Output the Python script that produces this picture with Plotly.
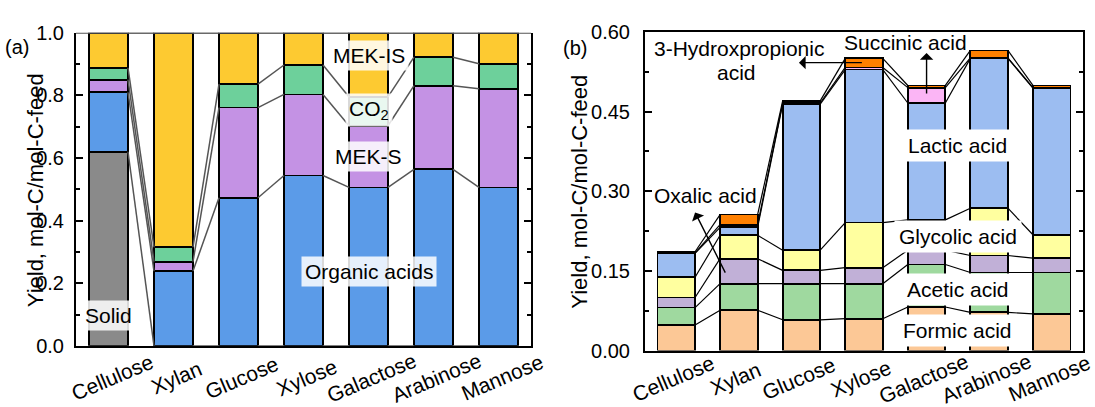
import numpy as np
import plotly.graph_objects as go

W, H = 1095, 407
FONT = "Liberation Sans, Arial, sans-serif"

categories = ["Cellulose", "Xylan", "Glucose", "Xylose", "Galactose", "Arabinose", "Mannose"]

# Panel (a): carbon distribution (mol-C/mol-C-feed)
solid = [0.62, 0.0, 0.0, 0.0, 0.0, 0.0, 0.0]
organic_acids = [0.19, 0.239, 0.473, 0.544, 0.506, 0.564, 0.506]
mek_s = [0.04, 0.030, 0.288, 0.259, 0.197, 0.267, 0.315]
co2 = [0.038, 0.046, 0.075, 0.094, 0.092, 0.091, 0.080]
mek_is = [0.112, 0.685, 0.164, 0.103, 0.205, 0.078, 0.099]

# Panel (b): organic acid yields (mol-C/mol-C-feed)
formic = [0.048, 0.076, 0.058, 0.060, 0.082, 0.072, 0.069]
acetic = [0.033, 0.050, 0.068, 0.066, 0.080, 0.075, 0.078]
oxalic = [0.019, 0.047, 0.025, 0.030, 0.027, 0.032, 0.027]
glycolic = [0.038, 0.044, 0.038, 0.085, 0.057, 0.089, 0.044]
lactic = [0.045, 0.015, 0.275, 0.288, 0.220, 0.282, 0.276]
succinic = [0.001, 0.005, 0.002, 0.004, 0.029, 0.001, 0.001]
hydroxypropionic = [0.002, 0.019, 0.004, 0.017, 0.004, 0.014, 0.004]

a_series = [("Solid", solid, "#8a8a8a"),
            ("Organic acids", organic_acids, "#5b9be8"),
            ("MEK-S", mek_s, "#c492e4"),
            ("CO2", co2, "#6dd09b"),
            ("MEK-IS", mek_is, "#fdca31")]
b_series = [("Formic acid", formic, "#fcc896"),
            ("Acetic acid", acetic, "#9fd99f"),
            ("Oxalic acid", oxalic, "#c1b0d7"),
            ("Glycolic acid", glycolic, "#ffff9f"),
            ("Lactic acid", lactic, "#9cbdf1"),
            ("Succinic acid", succinic, "#fbb5f5"),
            ("3-Hydroxypropionic acid", hydroxypropionic, "#ff8000")]

xs = list(range(len(categories)))
HALF = 0.3

fig = go.Figure()


def add_panel(series, xa, ya, line_color, line_w):
    for name, vals, color in series:
        fig.add_trace(go.Bar(x=xs, y=vals, name=name, width=2 * HALF,
                             marker=dict(color=color, line=dict(color="black", width=1.8)),
                             xaxis=xa, yaxis=ya, showlegend=False))
    cum = np.cumsum(np.array([s[1] for s in series]), axis=0)
    for row in cum:
        lx, ly = [], []
        for i in range(len(xs) - 1):
            lx += [xs[i] + HALF, xs[i + 1] - HALF, None]
            ly += [row[i], row[i + 1], None]
        fig.add_trace(go.Scatter(x=lx, y=ly, mode="lines", xaxis=xa, yaxis=ya,
                                 line=dict(color=line_color, width=line_w),
                                 showlegend=False, hoverinfo="skip"))


add_panel(a_series, "x", "y", "#555555", 1.5)
add_panel(b_series, "x2", "y2", "black", 1.2)

ax_common = dict(range=[-0.5, 6.5], showticklabels=False, ticks="", showgrid=False,
                 zeroline=False, showline=True, linecolor="black", linewidth=2)
fig.update_layout(
    width=W, height=H, margin=dict(l=0, r=0, t=0, b=0),
    plot_bgcolor="white", paper_bgcolor="white",
    barmode="stack", font=dict(family=FONT, size=20, color="black"),
    xaxis=dict(domain=[76 / W, 531 / W], anchor="y", mirror=False, **ax_common),
    xaxis2=dict(domain=[645 / W, 1083 / W], anchor="y2", mirror=True, **ax_common),
    yaxis=dict(domain=[1 - 354 / H, 1 - 23 / H], anchor="x", range=[0, 1],
               tickvals=[0, 0.2, 0.4, 0.6, 0.8, 1.0], tickformat=".1f",
               ticks="inside", ticklen=7, tickwidth=1.6, tickcolor="black",
               minor=dict(ticks="inside", ticklen=4, tickwidth=1.6, dtick=0.1, tickcolor="black"),
               showline=True, linecolor="black", linewidth=2, mirror="ticks",
               showgrid=False, zeroline=False, ticklabelstandoff=6,
               tickfont=dict(size=20)),
    yaxis2=dict(domain=[1 - 359 / H, 1 - 22 / H], anchor="x2", range=[0, 0.6],
                tickvals=[0, 0.15, 0.3, 0.45, 0.6], tickformat=".2f",
                ticks="inside", ticklen=7, tickwidth=1.6, tickcolor="black",
                minor=dict(ticks="inside", ticklen=4, tickwidth=1.6, dtick=0.075, tickcolor="black"),
                showline=True, linecolor="black", linewidth=2, mirror="ticks",
                showgrid=False, zeroline=False, ticklabelstandoff=9,
                tickfont=dict(size=20)),
)

# gray top frame of panel (a)
fig.add_shape(type="line", xref="x domain", yref="y", x0=0, x1=1, y0=1, y1=1,
              line=dict(color="#555555", width=2), layer="above")

ann = []
# category labels
for i, c in enumerate(categories):
    ann.append(dict(x=i + 0.05, xref="x", y=1 - 387 / H, yref="paper", text=c, textangle=-23,
                    showarrow=False, font=dict(size=21), xanchor="center", yanchor="middle",
                    borderpad=0))
    ann.append(dict(x=i - 0.05, xref="x2", y=1 - 388 / H, yref="paper", text=c, textangle=-23,
                    showarrow=False, font=dict(size=21), xanchor="center", yanchor="middle",
                    borderpad=0))

# axis titles
ann.append(dict(x=21 / W, xref="paper", y=1 - 190 / H, yref="paper", text="Yield, mol-C/mol-C-feed",
                textangle=-90, showarrow=False, font=dict(size=22)))
ann.append(dict(x=580 / W, xref="paper", y=1 - 191 / H, yref="paper", text="Yield, mol-C/mol-C-feed",
                textangle=-90, showarrow=False, font=dict(size=22)))
ann.append(dict(x=30 / W, xref="paper", xanchor="right", y=1 - 25 / H, yref="paper", text="(a)",
                showarrow=False, font=dict(size=20), borderpad=0))
ann.append(dict(x=575 / W, xref="paper", y=1 - 25 / H, yref="paper", text="(b)",
                showarrow=False, font=dict(size=20)))

# panel (a) labels
bg_a = "rgba(255,255,255,0.85)"
for txt, x, y in [("MEK-IS", 4, 0.928), ("CO<sub>2</sub>", 4, 0.752), ("MEK-S", 4, 0.606),
                  ("Organic acids", 4, 0.236), ("Solid", 0, 0.096)]:
    ann.append(dict(x=x, xref="x", y=y, yref="y", text=txt, showarrow=False,
                    font=dict(size=21), bgcolor=bg_a, borderpad=3))

# panel (b) labels
for txt, y in [("Lactic acid", 0.386), ("Glycolic acid", 0.215),
               ("Acetic acid", 0.115), ("Formic acid", 0.037)]:
    ann.append(dict(x=4.5, xref="x2", y=y, yref="y2", text=txt, showarrow=False,
                    font=dict(size=21), bgcolor="white", borderpad=4))
ann.append(dict(x=0.46, xref="x2", y=0.2925, yref="y2", text="Oxalic acid", showarrow=False,
                font=dict(size=21)))
ann.append(dict(x=3.66, xref="x2", y=0.580, yref="y2", text="Succinic acid", showarrow=False,
                font=dict(size=21)))
ann.append(dict(x=1.0, xref="x2", y=0.568, yref="y2", text="3-Hydroxpropionic", showarrow=False,
                font=dict(size=21)))
ann.append(dict(x=0.97, xref="x2", y=0.524, yref="y2", text="acid", showarrow=False,
                font=dict(size=21)))

# arrows (tip at x,y; tail at ax,ay)
for tip, tail in [((1.96, 0.542), (2.99, 0.542)),
                  ((4.0, 0.560), (4.0, 0.481)),
                  ((0.30, 0.260), (0.795, 0.144))]:
    ann.append(dict(x=tip[0], y=tip[1], xref="x2", yref="y2", ax=tail[0], ay=tail[1],
                    axref="x2", ayref="y2", text="", showarrow=True, arrowhead=1,
                    arrowsize=1.6, arrowwidth=1.4, arrowcolor="black", standoff=0, startstandoff=0))

fig.update_layout(annotations=ann)
fig.write_html("out.html")
